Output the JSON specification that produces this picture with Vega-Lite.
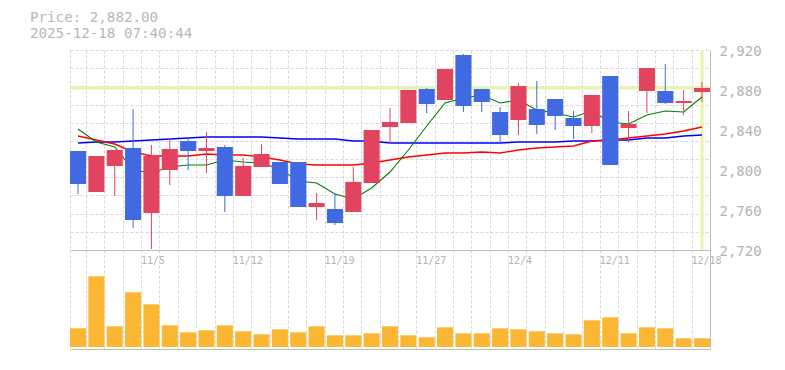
{
  "$schema": "https://vega.github.io/schema/vega-lite/v6.json",
  "padding": {"left": 30, "top": 11, "right": 5, "bottom": 5},
  "background": "white",
  "title": {
    "text": ["Price: 2,882.00", "2025-12-18 07:40:44"],
    "anchor": "start",
    "frame": "group",
    "font": "DejaVu Sans Mono",
    "fontSize": 14.2,
    "fontWeight": "normal",
    "color": "#b8b8b8",
    "lineHeight": 16,
    "dx": -40,
    "offset": 3
  },
  "data": {"values": [
    {"d": "10/29", "o": 2819, "h": 2819, "l": 2776, "c": 2786, "ma5": 2841, "ma25": 2834, "ma75": 2827, "v": 187},
    {"d": "10/30", "o": 2778, "h": 2814, "l": 2778, "c": 2814, "ma5": 2828, "ma25": 2830, "ma75": 2828, "v": 707},
    {"d": "10/31", "o": 2804, "h": 2820, "l": 2774, "c": 2820, "ma5": 2823, "ma25": 2826, "ma75": 2828, "v": 207},
    {"d": "11/4", "o": 2822, "h": 2861, "l": 2742, "c": 2750, "ma5": 2800, "ma25": 2818, "ma75": 2829, "v": 547},
    {"d": "11/5", "o": 2757, "h": 2825, "l": 2721, "c": 2814, "ma5": 2797, "ma25": 2814, "ma75": 2830, "v": 427},
    {"d": "11/6", "o": 2800, "h": 2832, "l": 2785, "c": 2821, "ma5": 2803, "ma25": 2814, "ma75": 2831, "v": 217},
    {"d": "11/7", "o": 2829, "h": 2832, "l": 2800, "c": 2819, "ma5": 2805, "ma25": 2814, "ma75": 2832, "v": 147},
    {"d": "11/10", "o": 2819, "h": 2838, "l": 2797, "c": 2822, "ma5": 2805, "ma25": 2816, "ma75": 2833, "v": 167},
    {"d": "11/11", "o": 2823, "h": 2825, "l": 2758, "c": 2774, "ma5": 2810, "ma25": 2815, "ma75": 2833, "v": 217},
    {"d": "11/12", "o": 2774, "h": 2812, "l": 2774, "c": 2804, "ma5": 2808, "ma25": 2815, "ma75": 2833, "v": 157},
    {"d": "11/13", "o": 2803, "h": 2826, "l": 2803, "c": 2816, "ma5": 2807, "ma25": 2813, "ma75": 2833, "v": 127},
    {"d": "11/14", "o": 2808, "h": 2808, "l": 2786, "c": 2786, "ma5": 2801, "ma25": 2810, "ma75": 2832, "v": 177},
    {"d": "11/17", "o": 2808, "h": 2808, "l": 2763, "c": 2763, "ma5": 2789, "ma25": 2806, "ma75": 2831, "v": 147},
    {"d": "11/18", "o": 2763, "h": 2777, "l": 2750, "c": 2767, "ma5": 2787, "ma25": 2805, "ma75": 2831, "v": 207},
    {"d": "11/19", "o": 2761, "h": 2777, "l": 2745, "c": 2747, "ma5": 2776, "ma25": 2805, "ma75": 2831, "v": 117},
    {"d": "11/20", "o": 2758, "h": 2803, "l": 2758, "c": 2788, "ma5": 2771, "ma25": 2805, "ma75": 2829, "v": 117},
    {"d": "11/21", "o": 2787, "h": 2840, "l": 2787, "c": 2840, "ma5": 2782, "ma25": 2807, "ma75": 2829, "v": 137},
    {"d": "11/25", "o": 2843, "h": 2862, "l": 2826, "c": 2848, "ma5": 2798, "ma25": 2810, "ma75": 2827, "v": 207},
    {"d": "11/26", "o": 2847, "h": 2880, "l": 2847, "c": 2880, "ma5": 2820, "ma25": 2813, "ma75": 2827, "v": 117},
    {"d": "11/27", "o": 2881, "h": 2882, "l": 2857, "c": 2866, "ma5": 2844, "ma25": 2815, "ma75": 2827, "v": 97},
    {"d": "11/28", "o": 2870, "h": 2901, "l": 2870, "c": 2901, "ma5": 2867, "ma25": 2817, "ma75": 2827, "v": 197},
    {"d": "12/1", "o": 2915, "h": 2916, "l": 2858, "c": 2864, "ma5": 2872, "ma25": 2817, "ma75": 2827, "v": 137},
    {"d": "12/2", "o": 2881, "h": 2881, "l": 2858, "c": 2868, "ma5": 2875, "ma25": 2818, "ma75": 2827, "v": 137},
    {"d": "12/3", "o": 2858, "h": 2863, "l": 2827, "c": 2835, "ma5": 2867, "ma25": 2817, "ma75": 2827, "v": 187},
    {"d": "12/4", "o": 2850, "h": 2887, "l": 2835, "c": 2884, "ma5": 2870, "ma25": 2820, "ma75": 2828, "v": 177},
    {"d": "12/5", "o": 2861, "h": 2889, "l": 2836, "c": 2845, "ma5": 2860, "ma25": 2822, "ma75": 2828, "v": 157},
    {"d": "12/8", "o": 2871, "h": 2871, "l": 2840, "c": 2854, "ma5": 2857, "ma25": 2823, "ma75": 2828, "v": 137},
    {"d": "12/9", "o": 2852, "h": 2859, "l": 2831, "c": 2844, "ma5": 2853, "ma25": 2824, "ma75": 2829, "v": 127},
    {"d": "12/10", "o": 2844, "h": 2875, "l": 2837, "c": 2875, "ma5": 2859, "ma25": 2829, "ma75": 2829, "v": 267},
    {"d": "12/11", "o": 2894, "h": 2894, "l": 2805, "c": 2805, "ma5": 2848, "ma25": 2830, "ma75": 2830, "v": 297},
    {"d": "12/12", "o": 2842, "h": 2859, "l": 2828, "c": 2846, "ma5": 2846, "ma25": 2832, "ma75": 2830, "v": 137},
    {"d": "12/15", "o": 2879, "h": 2902, "l": 2857, "c": 2902, "ma5": 2855, "ma25": 2834, "ma75": 2832, "v": 197},
    {"d": "12/16", "o": 2879, "h": 2906, "l": 2866, "c": 2867, "ma5": 2859, "ma25": 2836, "ma75": 2832, "v": 187},
    {"d": "12/17", "o": 2867, "h": 2880, "l": 2855, "c": 2869, "ma5": 2858, "ma25": 2839, "ma75": 2834, "v": 87},
    {"d": "12/18", "o": 2878, "h": 2888, "l": 2868, "c": 2882, "ma5": 2873, "ma25": 2843, "ma75": 2835, "v": 87}
  ]},
  "spacing": 0,
  "bounds": "flush",
  "vconcat": [
    {
      "width": 640,
      "height": 200,
      "resolve": {"axis": {"y": "independent"}},
      "layer": [
        {
          "data": {"values": [{}]},
          "mark": {"type": "rule", "color": "#e6f4ad", "strokeWidth": 3},
          "encoding": {
            "y": {"datum": 2882, "type": "quantitative", "scale": {"domain": [2720, 2920], "nice": false, "zero": false}, "axis": null}
          }
        },
        {
          "data": {"values": [{}]},
          "mark": {"type": "rule", "color": "#e6f4ad", "strokeWidth": 3},
          "encoding": {
            "x": {"datum": "12/18", "type": "ordinal", "scale": {"type": "band", "domain": ["10/29","10/30","10/31","11/4","11/5","11/6","11/7","11/10","11/11","11/12","11/13","11/14","11/17","11/18","11/19","11/20","11/21","11/25","11/26","11/27","11/28","12/1","12/2","12/3","12/4","12/5","12/8","12/9","12/10","12/11","12/12","12/15","12/16","12/17","12/18"], "paddingInner": 0.125, "paddingOuter": 0}, "axis": {"title": null}}
          }
        },
        {
          "mark": {"type": "line", "color": "#0000ff", "strokeWidth": 1.4},
          "encoding": {
            "x": {"field": "d", "type": "ordinal", "scale": {"type": "band", "domain": ["10/29","10/30","10/31","11/4","11/5","11/6","11/7","11/10","11/11","11/12","11/13","11/14","11/17","11/18","11/19","11/20","11/21","11/25","11/26","11/27","11/28","12/1","12/2","12/3","12/4","12/5","12/8","12/9","12/10","12/11","12/12","12/15","12/16","12/17","12/18"], "paddingInner": 0.125, "paddingOuter": 0}, "axis": {"title": null}},
            "y": {"field": "ma75", "type": "quantitative", "scale": {"domain": [2720, 2920], "nice": false, "zero": false}, "axis": null}
          }
        },
        {
          "mark": {"type": "line", "color": "#ff0000", "strokeWidth": 1.4},
          "encoding": {
            "x": {"field": "d", "type": "ordinal", "scale": {"type": "band", "domain": ["10/29","10/30","10/31","11/4","11/5","11/6","11/7","11/10","11/11","11/12","11/13","11/14","11/17","11/18","11/19","11/20","11/21","11/25","11/26","11/27","11/28","12/1","12/2","12/3","12/4","12/5","12/8","12/9","12/10","12/11","12/12","12/15","12/16","12/17","12/18"], "paddingInner": 0.125, "paddingOuter": 0}, "axis": {"title": null}},
            "y": {"field": "ma25", "type": "quantitative", "scale": {"domain": [2720, 2920], "nice": false, "zero": false}, "axis": null}
          }
        },
        {
          "mark": {"type": "line", "color": "#008000", "strokeWidth": 1.1},
          "encoding": {
            "x": {"field": "d", "type": "ordinal", "scale": {"type": "band", "domain": ["10/29","10/30","10/31","11/4","11/5","11/6","11/7","11/10","11/11","11/12","11/13","11/14","11/17","11/18","11/19","11/20","11/21","11/25","11/26","11/27","11/28","12/1","12/2","12/3","12/4","12/5","12/8","12/9","12/10","12/11","12/12","12/15","12/16","12/17","12/18"], "paddingInner": 0.125, "paddingOuter": 0}, "axis": {"title": null}},
            "y": {"field": "ma5", "type": "quantitative", "scale": {"domain": [2720, 2920], "nice": false, "zero": false}, "axis": null}
          }
        },
        {
          "mark": {"type": "rule", "strokeWidth": 1},
          "encoding": {
            "x": {"field": "d", "type": "ordinal", "scale": {"type": "band", "domain": ["10/29","10/30","10/31","11/4","11/5","11/6","11/7","11/10","11/11","11/12","11/13","11/14","11/17","11/18","11/19","11/20","11/21","11/25","11/26","11/27","11/28","12/1","12/2","12/3","12/4","12/5","12/8","12/9","12/10","12/11","12/12","12/15","12/16","12/17","12/18"], "paddingInner": 0.125, "paddingOuter": 0}, "axis": {"title": null}},
            "y": {"field": "l", "type": "quantitative", "scale": {"domain": [2720, 2920], "nice": false, "zero": false},
              "axis": {
                "title": null, "orient": "left", "grid": true, "gridDash": [3, 2], "gridColor": "#d8d8d8",
                "values": [2720, 2738.18, 2756.36, 2774.55, 2792.73, 2810.91, 2829.09, 2847.27, 2865.45, 2883.64, 2901.82, 2920],
                "labels": false, "ticks": false, "domain": false, "minExtent": 0
              }},
            "y2": {"field": "h"},
            "color": {"condition": {"test": "datum.c >= datum.o", "value": "#e2445f"}, "value": "#4169e1"}
          }
        },
        {
          "mark": {"type": "bar"},
          "encoding": {
            "x": {"field": "d", "type": "ordinal", "scale": {"type": "band", "domain": ["10/29","10/30","10/31","11/4","11/5","11/6","11/7","11/10","11/11","11/12","11/13","11/14","11/17","11/18","11/19","11/20","11/21","11/25","11/26","11/27","11/28","12/1","12/2","12/3","12/4","12/5","12/8","12/9","12/10","12/11","12/12","12/15","12/16","12/17","12/18"], "paddingInner": 0.125, "paddingOuter": 0}, "axis": {"title": null}},
            "y": {"field": "o", "type": "quantitative", "scale": {"domain": [2720, 2920], "nice": false, "zero": false},
              "axis": {
                "title": null, "orient": "right", "grid": false, "ticks": false, "domain": true, "domainColor": "#bdbdbd",
                "values": [2720, 2760, 2800, 2840, 2880, 2920], "format": ",.0f",
                "labelFont": "DejaVu Sans Mono", "labelFontSize": 14, "labelColor": "#b4b4b4",
                "labelPadding": 9, "labelOffset": 1.5, "minExtent": 0
              }},
            "y2": {"field": "c"},
            "color": {"condition": {"test": "datum.c >= datum.o", "value": "#e2445f"}, "value": "#4169e1"}
          }
        }
      ]
    },
    {
      "width": 640,
      "height": 99,
      "mark": {"type": "bar", "color": "#fbb734"},
      "encoding": {
        "x": {"field": "d", "type": "ordinal", "scale": {"type": "band", "domain": ["10/29","10/30","10/31","11/4","11/5","11/6","11/7","11/10","11/11","11/12","11/13","11/14","11/17","11/18","11/19","11/20","11/21","11/25","11/26","11/27","11/28","12/1","12/2","12/3","12/4","12/5","12/8","12/9","12/10","12/11","12/12","12/15","12/16","12/17","12/18"], "paddingInner": 0.125, "paddingOuter": 0},
          "axis": {"title": null, "labels": false}},
        "y": {"field": "v", "type": "quantitative", "scale": {"domain": [-20, 970], "nice": false, "zero": false},
          "axis": {"title": null, "orient": "right", "grid": false, "labels": false, "ticks": false, "domain": true, "domainColor": "#bdbdbd", "minExtent": 0}},
        "y2": {"datum": 0}
      }
    }
  ],
  "config": {
    "view": {"stroke": null},
    "font": "DejaVu Sans Mono",
    "axisX": {
      "tickBand": "extent", "grid": true, "gridDash": [3, 2], "gridColor": "#d8d8d8",
      "ticks": false, "domain": true, "domainColor": "#bdbdbd",
      "labelAlign": "left", "labelOffset": -11, "labelPadding": 5, "labelAngle": 0,
      "labelFont": "DejaVu Sans Mono", "labelFontSize": 10, "labelColor": "#b4b4b4",
      "labelOverlap": false,
      "labelExpr": "indexof(['11/5','11/12','11/19','11/27','12/4','12/11','12/18'], datum.value) >= 0 ? datum.value : ''"
    }
  }
}
